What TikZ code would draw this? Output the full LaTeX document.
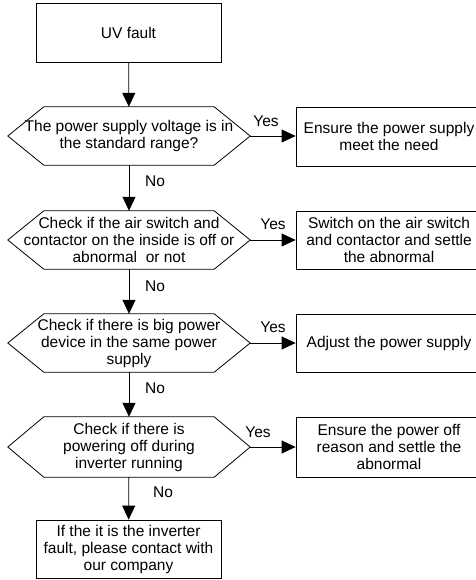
\documentclass[tikz,border=0pt]{standalone}
\usepackage{fontspec}
\setmainfont{Liberation Sans}
\usetikzlibrary{arrows.meta}
\newcommand{\drawhex}[1]{%
  \draw[line width=0.8pt] ([xshift=36pt]#1.north west) -- ([xshift=-36pt]#1.north east) -- (#1.east)
    -- ([xshift=-36pt]#1.south east) -- ([xshift=36pt]#1.south west) -- (#1.west) -- cycle;}
\begin{document}
\begin{tikzpicture}[x=1pt,y=-1pt,
  font=\fontsize{15.5}{17}\selectfont,
  box/.style={draw, line width=0.8pt, align=center, inner sep=0pt},
  dec/.style={align=center, inner sep=0pt, minimum width=242pt, minimum height=58pt},
  rbox/.style={box, minimum width=186pt},
  arr/.style={line width=0.8pt, -{Triangle[length=14pt,width=13pt]}},
  lab/.style={inner sep=0pt}]
\useasboundingbox (0,0) rectangle (475,580);

\node[box, minimum width=185pt, minimum height=59pt] (uv) at (128.5,32.5) {UV fault};

\node[dec] (q1) at (129,136) {The power supply voltage is in\\the standard range?};
\drawhex{q1}
\node[rbox, minimum height=59pt] (a1) at (389,136.5) {Ensure the power supply\\meet the need};

\node[dec] (q2) at (129,240) {Check if the air switch and\\contactor on the inside is off or\\abnormal\ \ or not};
\drawhex{q2}
\node[rbox, minimum height=58pt] (a2) at (389,240) {Switch on the air switch\\and contactor and settle\\the abnormal};

\node[dec] (q3) at (129,343) {Check if there is big power\\device in the same power\\supply};
\drawhex{q3}
\node[rbox, minimum height=58pt] (a3) at (389,343) {Adjust the power supply};

\node[dec, minimum height=60pt] (q4) at (129,447) {Check if there is\\powering off during\\inverter running};
\drawhex{q4}
\node[rbox, minimum height=60pt] (a4) at (389,447) {Ensure the power off\\reason and settle the\\abnormal};

\node[box, minimum width=185pt, minimum height=58pt] (fin) at (128.5,549) {If the it is the inverter\\fault, please contact with\\our company};

\draw[arr] (uv) -- (q1);
\draw[arr] (q1) -- (q2);
\draw[arr] (q2) -- (q3);
\draw[arr] (q3) -- (q4);
\draw[arr] (q4) -- (fin);
\draw[arr] (q1.east) -- (q1.east -| a1.west);
\draw[arr] (q2.east) -- (q2.east -| a2.west);
\draw[arr] (q3.east) -- (q3.east -| a3.west);
\draw[arr] (q4.east) -- (q4.east -| a4.west);

\node[lab] (y1) at (266,121) {Yes};
\node[lab] (y2) at (273,224) {Yes};
\node[lab] (y3) at (273,327) {Yes};
\node[lab] (y4) at (258,432) {Yes};
\node[lab] (n1) at (155,181) {No};
\node[lab] (n2) at (155,286) {No};
\node[lab] (n3) at (155,388) {No};
\node[lab] (n4) at (163,492) {No};
\end{tikzpicture}
\end{document}
